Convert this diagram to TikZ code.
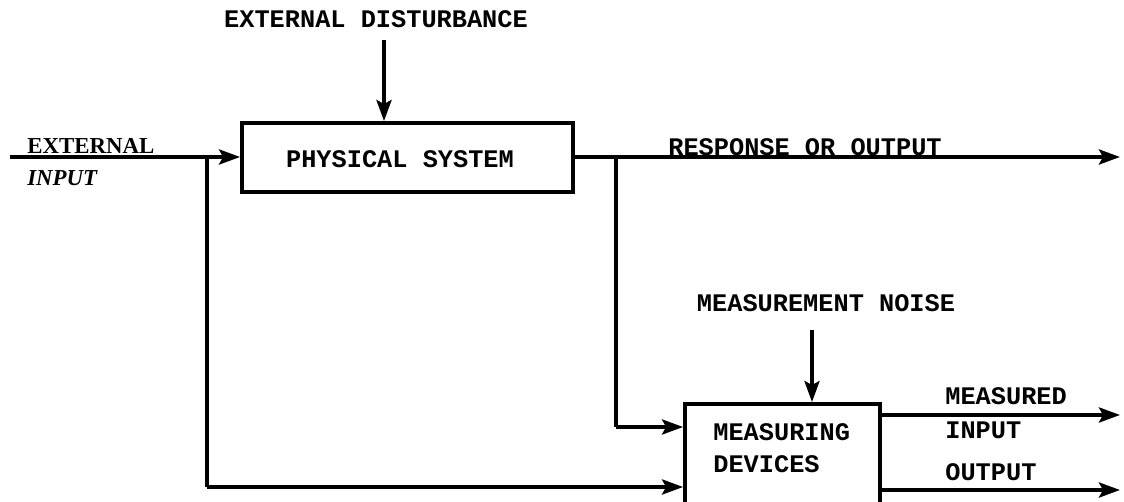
\documentclass[tikz,border=0pt]{standalone}
\usepackage{fontspec}
\setmonofont{Liberation Mono}
\newfontfamily\lblserif{Liberation Serif}
\usetikzlibrary{arrows.meta}
\tikzset{
  wire/.style={line width=2.2pt},
  arr/.style={wire,-{Stealth[length=0.42cm,width=0.3cm,inset=0.08cm]}},
  blk/.style={draw,line width=2.2pt,inner sep=0pt},
  txt/.style={font=\fontsize{14.4}{17}\selectfont\ttfamily\bfseries,inner sep=0pt},
  stxt/.style={font=\fontsize{13}{15}\selectfont\lblserif\bfseries,inner sep=0pt}
}
\begin{document}
\begin{tikzpicture}[x=0.02cm,y=-0.02cm]
\clip (0,0) rectangle (1124,502);
\useasboundingbox (0,0) rectangle (1124,502);
% blocks
\node[blk,minimum width=6.62cm,minimum height=1.38cm] (ps) at (407.5,157.5) {};
\node[txt] (pstext) at (400,159) {PHYSICAL SYSTEM};
\node[blk,minimum width=3.9cm,minimum height=2.2cm] (md) at (782.5,459) {};
\node[txt,anchor=west,align=left,font=\fontsize{14.4}{18.2}\selectfont\ttfamily\bfseries] (mdtext) at (713,448) {MEASURING\\DEVICES};
% labels
\node[txt] (dist) at (376,19) {EXTERNAL DISTURBANCE};
\node[txt] (noise) at (826,303) {MEASUREMENT NOISE};
\node[txt] (resp) at (805,147) {RESPONSE OR OUTPUT};
\node[stxt,anchor=base west] (extin) at (27,154) {EXTERNAL};
\node[stxt,anchor=west,font=\fontsize{13}{15}\selectfont\lblserif\bfseries\itshape] (inp) at (27,178) {INPUT};
\node[txt,anchor=west] (mi1) at (945,396) {MEASURED};
\node[txt,anchor=west] (mi2) at (945,430) {INPUT};
\node[txt,anchor=west] (mo) at (945,472) {OUTPUT};
% coordinates
\coordinate (start) at (10,157);
\coordinate (j1) at (207,157);
\coordinate (j1b) at (207,487);
\coordinate (j2) at (616,157);
\coordinate (j2b) at (616,427);
\coordinate (respend) at (1120,157);
\coordinate (dtop) at (384,40);
\coordinate (ntop) at (812,330);
\coordinate (mout1) at (1120,415);
\coordinate (mout2) at (1120,490);
% connectors
\draw[arr] (start) -- (ps.west |- start);
\draw[wire] (j1) -- (j1b);
\draw[arr] (j1b) -- (md.west |- j1b);
\draw[arr] (ps.east |- j2) -- (respend);
\draw[wire] (j2) -- (j2b);
\draw[arr] (j2b) -- (md.west |- j2b);
\draw[arr] (dtop) -- (dtop |- ps.north);
\draw[arr] (ntop) -- (ntop |- md.north);
\draw[arr] (md.east |- mout1) -- (mout1);
\draw[arr] (md.east |- mout2) -- (mout2);
\end{tikzpicture}
\end{document}
